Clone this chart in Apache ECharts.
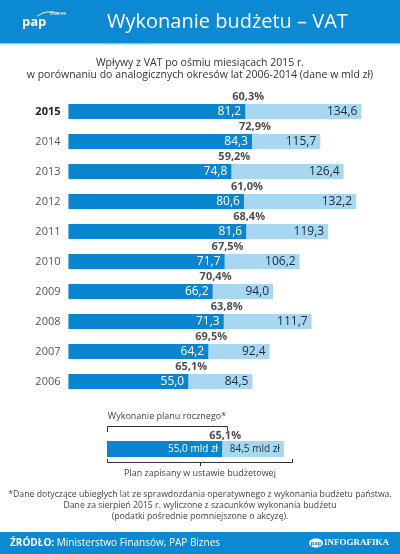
<!DOCTYPE html>
<html><head><meta charset="utf-8">
<script src="https://cdn.jsdelivr.net/npm/echarts@6/dist/echarts.min.js"></script>
<style>html,body{margin:0;padding:0;background:#fff}#c{width:400px;height:554px}</style>
</head><body><div id="c"></div>
<script>
const years = ['2015','2014','2013','2012','2011','2010','2009','2008','2007','2006'];
const executed = [81.2, 84.3, 74.8, 80.6, 81.6, 71.7, 66.2, 71.3, 64.2, 55.0];
const planned = [134.6, 115.7, 126.4, 132.2, 119.3, 106.2, 94.0, 111.7, 92.4, 84.5];
const percent = ['60,3%','72,9%','59,2%','61,0%','68,4%','67,5%','70,4%','63,8%','69,5%','65,1%'];
const legendExecuted = [55.0];
const legendPlanned = [84.5];
const legendPercent = ['65,1%'];

const FONT = '"Open Sans", "Noto Sans", sans-serif';
const DARK = '#0a85cf';
const LIGHT = '#a8d7f2';
const fmt = v => v.toFixed(1).replace('.', ',');
const chart = echarts.init(document.getElementById('c'), null, {renderer: 'canvas'});
const XMAX = 140, GL = 68.5, GW = 304.7;
const hidden = {color: 'rgba(0,0,0,0)'};

chart.setOption({
  animation: false,
  textStyle: {fontFamily: FONT},
  grid: [
    {left: GL, top: 96.5, width: GW, height: 300},
    {left: 107, top: 441, width: GW, height: 16}
  ],
  xAxis: [
    {gridIndex: 0, type: 'value', min: 0, max: XMAX, show: false},
    {gridIndex: 1, type: 'value', min: 0, max: XMAX, show: false}
  ],
  yAxis: [
    {gridIndex: 0, type: 'category', data: years, inverse: true,
     axisLine: {show: false}, axisTick: {show: false}, splitLine: {show: false},
     axisLabel: {margin: 8, fontSize: 11, color: '#555', fontFamily: FONT,
       formatter: (v, i) => i === 0 ? '{b|' + v + '}' : v,
       rich: {b: {fontWeight: 'bold', color: '#222', fontSize: 11, fontFamily: FONT}}}},
    {gridIndex: 1, type: 'category', data: ['legend'], show: false}
  ],
  series: [
    {type: 'bar', xAxisIndex: 0, yAxisIndex: 0, data: planned, barWidth: 15, barGap: '-100%',
     itemStyle: {color: LIGHT}, silent: true,
     label: {show: true, position: 'insideRight', distance: 4, color: '#1d2b3a', fontSize: 12, fontFamily: FONT,
       formatter: p => fmt(p.value)}},
    {type: 'bar', xAxisIndex: 0, yAxisIndex: 0, data: executed, barWidth: 15, barGap: '-100%',
     itemStyle: {color: DARK}, silent: true,
     label: {show: true, position: 'insideRight', distance: 4, color: '#fff', fontSize: 12, fontFamily: FONT,
       formatter: p => fmt(p.value)}},
    {type: 'scatter', xAxisIndex: 0, yAxisIndex: 0, data: executed.map((v, i) => [v, i]),
     symbolSize: 1, itemStyle: hidden, silent: true, z: 5,
     label: {show: true, position: 'inside', offset: [3, -14.5], fontWeight: 'bold', color: '#222', fontSize: 11, fontFamily: FONT,
       formatter: p => percent[p.dataIndex]}},
    {type: 'bar', xAxisIndex: 1, yAxisIndex: 1, data: legendPlanned, barWidth: 16, barGap: '-100%',
     itemStyle: {color: LIGHT}, silent: true,
     label: {show: true, position: 'insideRight', distance: 4, color: '#1d2b3a', fontSize: 10, fontFamily: FONT,
       formatter: p => fmt(p.value) + ' mld zł'}},
    {type: 'bar', xAxisIndex: 1, yAxisIndex: 1, data: legendExecuted, barWidth: 16, barGap: '-100%',
     itemStyle: {color: DARK}, silent: true,
     label: {show: true, position: 'insideRight', distance: 4, color: '#fff', fontSize: 10, fontFamily: FONT,
       formatter: p => fmt(p.value) + ' mld zł'}},
    {type: 'scatter', xAxisIndex: 1, yAxisIndex: 1, data: legendExecuted.map((v, i) => [v, i]),
     symbolSize: 1, itemStyle: hidden, silent: true, z: 5,
     label: {show: true, position: 'inside', offset: [3, -13.5], fontWeight: 'bold', color: '#222', fontSize: 11, fontFamily: FONT,
       formatter: p => legendPercent[p.dataIndex]}}
  ],
  graphic: [
    {type: 'rect', shape: {x: 0, y: 0, width: 400, height: 43}, style: {fill: '#0b89d3'}},
    {type: 'rect', shape: {x: 0, y: 43, width: 400, height: 1.5}, style: {fill: '#8fcdef'}},
    {type: 'text', x: 22, y: 22, style: {text: 'pap', fill: '#fff', font: 'bold 13px ' + FONT, verticalAlign: 'middle'}},
    {type: 'arc', shape: {cx: 50, cy: 34, r: 22, startAngle: -2.2, endAngle: -1.15}, style: {stroke: '#fff', lineWidth: 1, fill: null}},
    {type: 'text', x: 50, y: 13, style: {text: 'biznes', fill: '#fff', font: '5.5px ' + FONT, verticalAlign: 'middle'}},
    {type: 'text', x: 107, y: 22, style: {text: 'Wykonanie budżetu – VAT', fill: '#fff', font: '20px ' + FONT, verticalAlign: 'middle'}},
    {type: 'text', x: 200, y: 63, style: {text: 'Wpływy z VAT po ośmiu miesiącach 2015 r.', fill: '#333', font: '10.5px ' + FONT, align: 'center', verticalAlign: 'middle'}},
    {type: 'text', x: 200, y: 75.5, style: {text: 'w porównaniu do analogicznych okresów lat 2006-2014 (dane w mld zł)', fill: '#333', font: '10.5px ' + FONT, align: 'center', verticalAlign: 'middle'}},
    {type: 'text', x: 167, y: 416, style: {text: 'Wykonanie planu rocznego*', fill: '#444', font: '9px ' + FONT, align: 'center', verticalAlign: 'middle'}},
    {type: 'polyline', shape: {points: [[107.5, 432], [107.5, 426.5], [227.5, 426.5], [227.5, 431]]}, style: {stroke: '#333', lineWidth: 1, fill: null}},
    {type: 'polyline', shape: {points: [[107.5, 459], [107.5, 462.5], [292.5, 462.5], [292.5, 459]]}, style: {stroke: '#333', lineWidth: 1, fill: null}},
    {type: 'line', shape: {x1: 200.5, y1: 462.5, x2: 200.5, y2: 466}, style: {stroke: '#333', lineWidth: 1}},
    {type: 'text', x: 200, y: 473, style: {text: 'Plan zapisany w ustawie budżetowej', fill: '#444', font: '9px ' + FONT, align: 'center', verticalAlign: 'middle'}},
    {type: 'text', x: 200, y: 495, style: {text: '*Dane dotyczące ubiegłych lat ze sprawdozdania operatywnego z wykonania budżetu państwa.', fill: '#444', font: '8.7px ' + FONT, align: 'center', verticalAlign: 'middle'}},
    {type: 'text', x: 200, y: 506, style: {text: 'Dane za sierpień 2015 r. wyliczone z szacunków wykonania budżetu', fill: '#444', font: '8.7px ' + FONT, align: 'center', verticalAlign: 'middle'}},
    {type: 'text', x: 200, y: 517, style: {text: '(podatki pośrednie pomniejszone o akcyzę).', fill: '#444', font: '8.7px ' + FONT, align: 'center', verticalAlign: 'middle'}},
    {type: 'rect', shape: {x: 0, y: 532, width: 400, height: 22}, style: {fill: '#0b89d3'}},
    {type: 'text', x: 10, y: 543, style: {text: '{b|ŹRÓDŁO:} Ministerstwo Finansów, PAP Biznes', fill: '#fff', font: '10px ' + FONT, verticalAlign: 'middle',
      rich: {b: {fontWeight: 'bold', fill: '#fff', fontSize: 10, fontFamily: FONT}}}},
    {type: 'ellipse', shape: {cx: 316, cy: 543, rx: 7, ry: 4.5}, style: {fill: '#fff'}},
    {type: 'text', x: 316, y: 543, style: {text: 'pap', fill: '#0b89d3', font: 'bold 6px ' + FONT, align: 'center', verticalAlign: 'middle'}},
    {type: 'text', x: 389, y: 543, style: {text: 'INFOGRAFIKA', fill: '#fff', font: 'bold 9px "Liberation Serif", serif', align: 'right', verticalAlign: 'middle'}}
  ]
});
</script></body></html>
